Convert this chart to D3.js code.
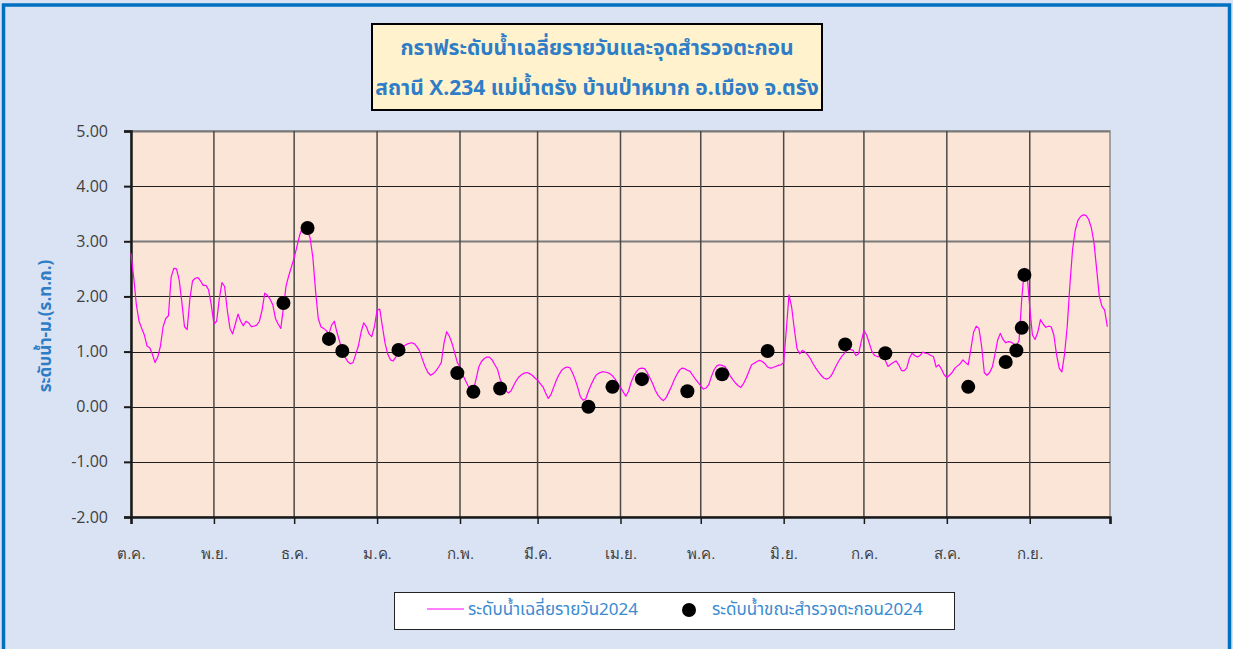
<!DOCTYPE html>
<html>
<head>
<meta charset="utf-8">
<script src="https://cdn.jsdelivr.net/npm/d3@7"></script>
<style>
  html, body { margin: 0; padding: 0; background: #dae3f3; }
  svg { display: block; font-family: Tahoma, "Noto Sans Thai", "Noto Sans", "DejaVu Sans", sans-serif; }
</style>
</head>
<body>
<div id="chart"></div>
<script>
// ---- data ----
var startDate = new Date(2023, 9, 1); // 1 ต.ค. 2566
// ระดับน้ำเฉลี่ยรายวัน (ม.ร.ท.ก.) one value per day from 1 Oct 2023
var dailyLevel = [
  2.78, 2.35, 1.85, 1.55, 1.42, 1.30, 1.10, 1.07, 0.95, 0.80,
  0.90, 1.10, 1.45, 1.60, 1.65, 2.35, 2.51, 2.50, 2.30, 1.90,
  1.45, 1.40, 1.95, 2.28, 2.33, 2.34, 2.28, 2.20, 2.20, 2.12,
  1.85, 1.50, 1.55, 1.95, 2.25, 2.18, 1.75, 1.42, 1.32, 1.50,
  1.68, 1.55, 1.47, 1.55, 1.52, 1.45, 1.46, 1.48, 1.55, 1.75,
  2.06, 2.02, 1.95, 1.85, 1.60, 1.50, 1.42, 1.80, 2.20, 2.38,
  2.54, 2.70, 2.90, 3.10, 3.24, 3.22, 3.20, 3.05, 2.70, 2.10,
  1.60, 1.45, 1.42, 1.38, 1.32, 1.48, 1.55, 1.35, 1.18, 1.00,
  0.90, 0.82, 0.78, 0.80, 0.95, 1.10, 1.35, 1.52, 1.45, 1.32,
  1.27, 1.45, 1.75, 1.77, 1.45, 1.15, 0.95, 0.85, 0.83, 0.90,
  1.02, 1.08, 1.10, 1.13, 1.15, 1.16, 1.14, 1.08, 1.00, 0.85,
  0.72, 0.62, 0.57, 0.60, 0.65, 0.72, 0.80, 1.15, 1.36, 1.28,
  1.15, 0.98, 0.80, 0.72, 0.58, 0.48, 0.38, 0.32, 0.30, 0.50,
  0.72, 0.82, 0.87, 0.90, 0.90, 0.85, 0.76, 0.68, 0.50, 0.40,
  0.30, 0.25, 0.28, 0.38, 0.47, 0.54, 0.58, 0.61, 0.62, 0.60,
  0.57, 0.52, 0.48, 0.42, 0.36, 0.25, 0.15, 0.22, 0.35, 0.48,
  0.58, 0.66, 0.70, 0.72, 0.71, 0.62, 0.50, 0.35, 0.18, 0.12,
  0.14, 0.28, 0.40, 0.50, 0.58, 0.61, 0.63, 0.63, 0.62, 0.60,
  0.56, 0.50, 0.42, 0.35, 0.27, 0.19, 0.28, 0.45, 0.56, 0.64,
  0.69, 0.70, 0.69, 0.62, 0.52, 0.42, 0.30, 0.21, 0.15, 0.11,
  0.16, 0.26, 0.36, 0.48, 0.58, 0.66, 0.70, 0.69, 0.66, 0.64,
  0.57, 0.50, 0.44, 0.38, 0.32, 0.34, 0.40, 0.55, 0.67, 0.74,
  0.76, 0.75, 0.73, 0.66, 0.56, 0.49, 0.43, 0.38, 0.35, 0.42,
  0.52, 0.64, 0.76, 0.79, 0.82, 0.84, 0.82, 0.78, 0.72, 0.70,
  0.71, 0.73, 0.75, 0.76, 0.80, 1.40, 2.03, 1.80, 1.40, 1.05,
  0.96, 1.02, 0.99, 0.94, 0.87, 0.78, 0.70, 0.63, 0.57, 0.52,
  0.50, 0.52, 0.58, 0.68, 0.78, 0.86, 0.93, 0.98, 1.04, 1.04,
  1.02, 0.93, 0.96, 1.18, 1.38, 1.30, 1.15, 1.00, 0.93, 0.91,
  0.91, 0.90, 0.84, 0.73, 0.77, 0.80, 0.83, 0.76, 0.66, 0.65,
  0.70, 0.88, 0.97, 0.93, 0.90, 0.93, 0.99, 0.97, 0.96, 0.93,
  0.91, 0.72, 0.76, 0.68, 0.58, 0.53, 0.57, 0.62, 0.70, 0.74,
  0.78, 0.85, 0.80, 0.76, 1.05, 1.35, 1.46, 1.42, 1.10, 0.62,
  0.57, 0.62, 0.72, 0.95, 1.21, 1.33, 1.22, 1.16, 1.18, 1.17,
  1.14, 1.10, 1.20, 1.95, 2.51, 2.40, 1.80, 1.30, 1.22, 1.35,
  1.58, 1.50, 1.44, 1.46, 1.45, 1.30, 0.95, 0.70, 0.63, 0.95,
  1.45, 2.20, 2.85, 3.20, 3.38, 3.45, 3.48, 3.47, 3.40, 3.25,
  2.98, 2.50, 2.00, 1.82, 1.75, 1.45
];

// ระดับน้ำขณะสำรวจตะกอน
var surveyDates = [
  "2023-11-27", "2023-12-06", "2023-12-14", "2023-12-19", "2024-01-09",
  "2024-01-31", "2024-02-06", "2024-02-16", "2024-03-20", "2024-03-29",
  "2024-04-09", "2024-04-26", "2024-05-09", "2024-05-26", "2024-06-24",
  "2024-07-09", "2024-08-09", "2024-08-23", "2024-08-27", "2024-08-29",
  "2024-08-30"
];
var surveyLevels = [
  1.88, 3.24, 1.23, 1.01, 1.03,
  0.61, 0.27, 0.33, 0.00, 0.36,
  0.50, 0.28, 0.59, 1.01, 1.13,
  0.97, 0.36, 0.81, 1.02, 1.43,
  2.39
];

var monthLabels = ["ต.ค.", "พ.ย.", "ธ.ค.", "ม.ค.", "ก.พ.", "มี.ค.", "เม.ย.", "พ.ค.", "มิ.ย.", "ก.ค.", "ส.ค.", "ก.ย."];
var yTicks = [-2, -1, 0, 1, 2, 3, 4, 5];

var titleLines = [
  "กราฟระดับน้ำเฉลี่ยรายวันและจุดสำรวจตะกอน",
  "สถานี X.234 แม่น้ำตรัง บ้านป่าหมาก อ.เมือง จ.ตรัง"
];
var yTitle = "ระดับน้ำ-ม.(ร.ท.ก.)";
var legendNames = ["ระดับน้ำเฉลี่ยรายวัน2024", "ระดับน้ำขณะสำรวจตะกอน2024"];

// ---- layout ----
var W = 1233, H = 649;
var plot = {left: 131, right: 1110, top: 131, bottom: 517};
var blue = "#2e7dc6";

var svg = d3.select("#chart").append("svg")
  .attr("width", W)
  .attr("height", H);

// page background + outer frame
svg.append("rect")
  .attr("width", W).attr("height", H)
  .attr("fill", "#dae3f3");
svg.append("rect")
  .attr("x", 3.5).attr("y", 5)
  .attr("width", W - 7).attr("height", H + 20)
  .attr("fill", "none")
  .attr("stroke", "#0070c0")
  .attr("stroke-width", 3.5);

// scales
var endDate = d3.timeYear.offset(startDate, 1);
var x = d3.scaleTime().domain([startDate, endDate]).range([plot.left, plot.right]);
var y = d3.scaleLinear().domain([-2, 5]).range([plot.bottom, plot.top]);

var lineData = dailyLevel.map(function (v, i) {
  return {date: d3.timeDay.offset(startDate, i), value: v};
});
var parse = d3.timeParse("%Y-%m-%d");
var dotData = surveyDates.map(function (d, i) {
  return {date: parse(d), value: surveyLevels[i]};
});
var months = d3.timeMonth.range(startDate, d3.timeDay.offset(endDate, 1));

// plot background
svg.append("rect")
  .attr("x", plot.left).attr("y", plot.top)
  .attr("width", plot.right - plot.left)
  .attr("height", plot.bottom - plot.top)
  .attr("fill", "#fbe5d6")
  .attr("stroke", "#8c8c8c")
  .attr("stroke-width", 1.5);

// grid
var grid = svg.append("g").attr("class", "grid");
grid.selectAll(".hgrid")
  .data(yTicks.filter(function (d) { return d > -2; }))
  .enter()
  .append("line")
    .attr("x1", plot.left).attr("x2", plot.right)
    .attr("y1", function (d) { return Math.round(y(d)) + 0.5; })
    .attr("y2", function (d) { return Math.round(y(d)) + 0.5; })
    .attr("stroke", function (d) { return (d === 3 || d === 5) ? "#7a7a7a" : "#1e1e1e"; })
    .attr("stroke-width", function (d) { return (d === 3 || d === 5) ? 2 : 1.2; });
grid.selectAll(".vgrid")
  .data(months.slice(1, -1))
  .enter()
  .append("line")
    .attr("x1", function (d) { return x(d); })
    .attr("x2", function (d) { return x(d); })
    .attr("y1", plot.top).attr("y2", plot.bottom)
    .attr("stroke", "#4a4a4a")
    .attr("stroke-width", 1.5);

// axes
var yAxis = svg.append("g")
  .attr("transform", "translate(" + plot.left + ",0)")
  .call(d3.axisLeft(y)
    .tickValues(yTicks)
    .tickSize(7)
    .tickPadding(16)
    .tickFormat(function (d) { return d.toFixed(2); }));
yAxis.select(".domain").attr("stroke", "#1a1a1a").attr("stroke-width", 2.5);
yAxis.selectAll(".tick line").attr("stroke", "#1a1a1a").attr("stroke-width", 2);
yAxis.selectAll(".tick text")
  .attr("fill", "#404040")
  .style("font-family", "'Open Sans', 'Noto Sans', sans-serif")
  .style("font-size", "16px");

var xAxis = svg.append("g")
  .attr("transform", "translate(0," + plot.bottom + ")")
  .call(d3.axisBottom(x)
    .tickValues(months)
    .tickSize(7)
    .tickPadding(24)
    .tickFormat(function (d, i) { return monthLabels[i] || ""; }));
xAxis.select(".domain").attr("stroke", "#1a1a1a").attr("stroke-width", 2.5);
xAxis.selectAll(".tick line").attr("stroke", "#1a1a1a").attr("stroke-width", 1.5);
xAxis.selectAll(".tick text")
  .attr("fill", "#404040")
  .style("font-size", "15px");

// daily line
var line = d3.line()
  .x(function (d) { return x(d.date); })
  .y(function (d) { return y(d.value); });
svg.append("path")
  .datum(lineData)
  .attr("d", line)
  .attr("fill", "none")
  .attr("stroke", "#ff00ff")
  .attr("stroke-width", 1.2)
  .attr("stroke-linejoin", "round");

// survey dots
svg.selectAll(".dot")
  .data(dotData)
  .enter()
  .append("circle")
    .attr("class", "dot")
    .attr("cx", function (d) { return x(d.date); })
    .attr("cy", function (d) { return y(d.value); })
    .attr("r", 7)
    .attr("fill", "#000");

// y title
svg.append("text")
  .attr("transform", "translate(51,326) rotate(-90)")
  .attr("text-anchor", "middle")
  .attr("fill", blue)
  .style("font-size", "17px")
  .style("font-weight", "bold")
  .text(yTitle);

// title box
svg.append("rect")
  .attr("x", 372).attr("y", 24)
  .attr("width", 450).attr("height", 86)
  .attr("fill", "#fff2cc")
  .attr("stroke", "#000")
  .attr("stroke-width", 2);
svg.selectAll(".title")
  .data(titleLines)
  .enter()
  .append("text")
    .attr("class", "title")
    .attr("x", 597)
    .attr("y", function (d, i) { return 55 + i * 40; })
    .attr("text-anchor", "middle")
    .attr("fill", blue)
    .style("font-size", "21px")
    .style("font-weight", "bold")
    .text(function (d) { return d; });

// legend
var legend = svg.append("g");
legend.append("rect")
  .attr("x", 394.5).attr("y", 592.5)
  .attr("width", 560).attr("height", 37)
  .attr("fill", "#fff")
  .attr("stroke", "#222")
  .attr("stroke-width", 1);
legend.append("line")
  .attr("x1", 427).attr("x2", 464)
  .attr("y1", 609).attr("y2", 609)
  .attr("stroke", "#ff00ff")
  .attr("stroke-width", 1.2);
legend.append("circle")
  .attr("cx", 689).attr("cy", 610)
  .attr("r", 7)
  .attr("fill", "#000");
legend.selectAll(".ltext")
  .data(legendNames)
  .enter()
  .append("text")
    .attr("x", function (d, i) { return i === 0 ? 468 : 712; })
    .attr("y", 615)
    .attr("fill", "#3a8ad0")
    .style("font-size", "17px")
    .text(function (d) { return d; });
</script>
</body>
</html>
